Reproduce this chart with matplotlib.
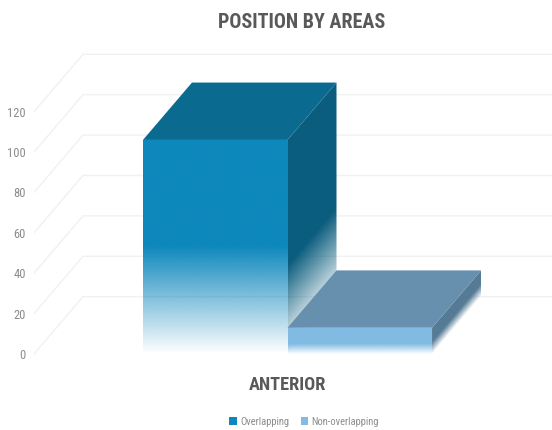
import numpy as np
import matplotlib as mpl
mpl.use('Agg')
import matplotlib.pyplot as plt
from matplotlib.patches import Polygon, Patch
from matplotlib import font_manager

categories = ['ANTERIOR']
series_names = ['Overlapping', 'Non-overlapping']
series_values = [106, 13]
y_ticks = [0, 20, 40, 60, 80, 100, 120]

# colours per series: front, top, side
FrontCol = ['#0E88BC', '#82BBE3']
TopCol = ['#0A6A90', '#6690AE']
SideCol = ['#0B5D7E', '#557B96']
FadeFront = [53, 5]
FadeSide = [44, 6]
GridCol = '#F1F1F1'

# narrowest family that is there
names = {f.name for f in font_manager.fontManager.ttflist}
Font = 'Lato'
for n in ['Liberation Sans Narrow', 'Roboto Condensed', 'Open Sans Condensed', 'Noto Sans Condensed']:
    if n in names:
        Font = n
        break
plt.rcParams['font.family'] = [Font, 'DejaVu Sans']

W, H = 552, 430
fig = plt.figure(figsize=(W / 100, H / 100), dpi=100)
# axes box in pixels: left 34, right 552, top 45, bottom 372
ax = fig.add_axes([34 / W, 1 - 372 / H, (552 - 34) / W, (372 - 45) / H])
xlim = (-0.754, 2.83)
ylim = (-8.9, 153)
depth_x, depth_y = 0.339, 28.4


def shaded_face(corners, color, fade, slope=0.0, zorder=2):
    # polygon filled with color, alpha falls to 0 towards value 0
    corners = np.array(corners)
    x0, x1 = corners[:, 0].min(), corners[:, 0].max()
    y0, y1 = corners[:, 1].min(), corners[:, 1].max()
    xx, yy = np.meshgrid(np.linspace(x0, x1, 200), np.linspace(y0, y1, 400))
    v = yy - slope * (xx - x0)
    rgba = np.zeros(xx.shape + (4,))
    rgba[..., :3] = mpl.colors.to_rgb(color)
    rgba[..., 3] = np.clip(v / fade, 0, 1)
    im = ax.imshow(rgba, extent=(x0, x1, y0, y1), origin='lower', aspect='auto',
                   interpolation='bilinear', zorder=zorder)
    clip = Polygon(corners, closed=True, transform=ax.transData)
    im.set_clip_path(clip)


# back wall grid and the slanted floor/side lines
for t in y_ticks:
    ax.plot([xlim[0], xlim[0] + depth_x, xlim[1]], [t, t + depth_y, t + depth_y],
            color=GridCol, lw=1, zorder=1, solid_joinstyle='miter')

for i, val in enumerate(series_values):
    x0, x1 = i, i + 1
    slope = depth_y / depth_x
    shaded_face([(x1, 0), (x1 + depth_x, depth_y), (x1 + depth_x, val + depth_y), (x1, val)],
                SideCol[i], FadeSide[i], slope=slope, zorder=2 + i)
    ax.add_patch(Polygon([(x0, val), (x1, val), (x1 + depth_x, val + depth_y), (x0 + depth_x, val + depth_y)],
                         closed=True, facecolor=TopCol[i], edgecolor='none', zorder=2 + i))
    shaded_face([(x0, 0), (x1, 0), (x1, val), (x0, val)], FrontCol[i], FadeFront[i], zorder=2 + i)

ax.set_xlim(xlim)
ax.set_ylim(ylim)
for s in ax.spines.values():
    s.set_visible(False)
ax.set_yticks(y_ticks)
ax.tick_params(axis='y', length=0, pad=6, labelsize=9, labelcolor='#8C8C8C')
ax.set_xticks([1], categories)
ax.tick_params(axis='x', length=0, pad=3, labelsize=13.2, labelcolor='#595959')
for lab in ax.get_xticklabels():
    lab.set_fontweight('bold')
ax.patch.set_alpha(0)

ax.set_title('POSITION BY AREAS', x=(301.5 - 34) / (552 - 34), pad=12, fontsize=14.4,
             fontweight='bold', color='#595959')

handles = [Patch(facecolor=c, edgecolor='none') for c in FrontCol]
ax.legend(handles, series_names, loc='center', bbox_to_anchor=((304 - 34) / 518, -0.152), ncol=2,
          frameon=False, fontsize=7.6, labelcolor='#8C8C8C', handlelength=0.7, handleheight=0.7,
          handletextpad=0.3, columnspacing=1.1)

plt.savefig('out.png', dpi=100)
